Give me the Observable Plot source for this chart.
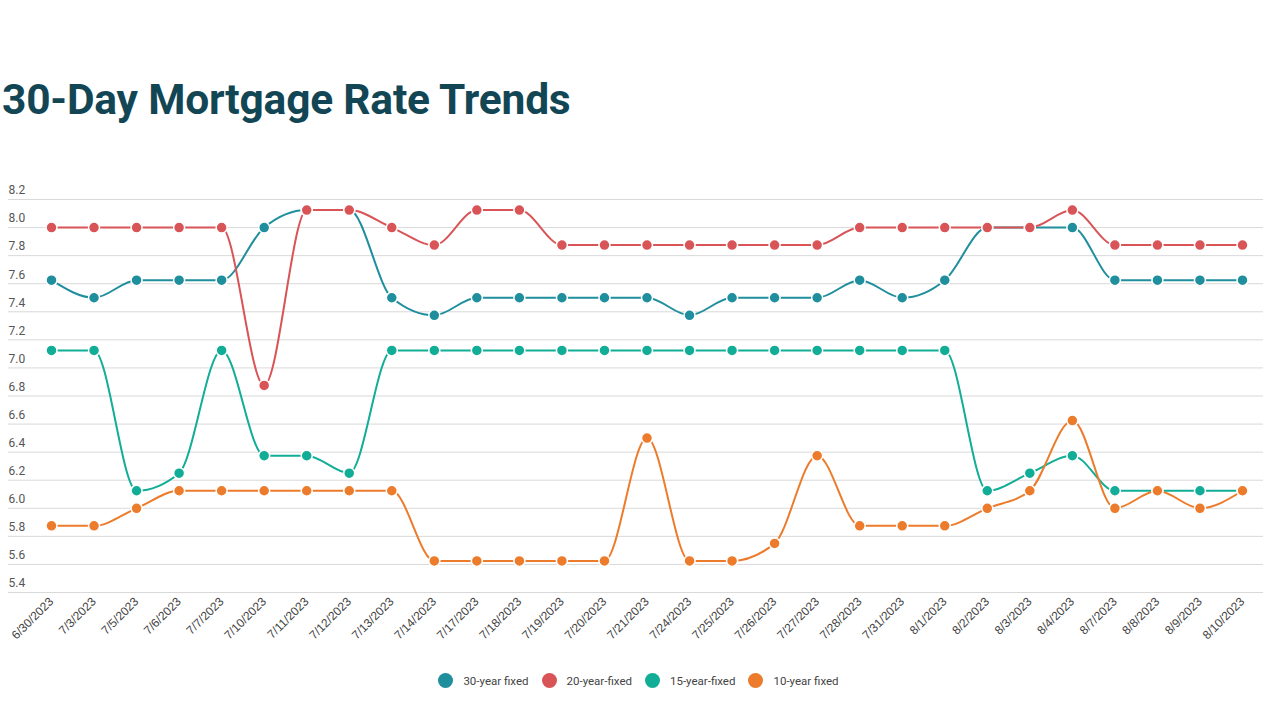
<!DOCTYPE html>
<html>
<head>
<meta charset="utf-8">
<script src="https://cdn.jsdelivr.net/npm/d3@7"></script>
<script src="https://cdn.jsdelivr.net/npm/@observablehq/plot@0.6"></script>
<style>
  html, body { margin: 0; padding: 0; background: #fff; width: 1280px; height: 726px; overflow: hidden; font-family: Roboto, "Noto Sans", sans-serif; }
  #title { position: absolute; left: 2px; top: 75px; font-size: 42.5px; font-weight: 700; color: #134655; font-family: Roboto, sans-serif; letter-spacing: -0.2px; white-space: nowrap; }
  #chart { position: absolute; left: 0; top: 150px; }
  #legend { position: absolute; left: 0; width: 1280px; top: 673px; display: flex; justify-content: center; font-size: 11.5px; color: #444; font-family: Roboto, sans-serif; }
  .item { display: flex; align-items: center; margin: 0 8px 0 5px; }
  .sw { width: 15px; height: 15px; border-radius: 50%; margin-right: 10px; }
</style>
</head>
<body>
<div id="title">30-Day Mortgage Rate Trends</div>
<div id="chart"></div>
<div id="legend"></div>
<script>
const dates = ["6/30/2023","7/3/2023","7/5/2023","7/6/2023","7/7/2023","7/10/2023","7/11/2023","7/12/2023","7/13/2023","7/14/2023","7/17/2023","7/18/2023","7/19/2023","7/20/2023","7/21/2023","7/24/2023","7/25/2023","7/26/2023","7/27/2023","7/28/2023","7/31/2023","8/1/2023","8/2/2023","8/3/2023","8/4/2023","8/7/2023","8/8/2023","8/9/2023","8/10/2023"];
const seriesNames = ["30-year fixed", "20-year-fixed", "15-year-fixed", "10-year fixed"];
const seriesColors = ["#1f8e9d", "#d95457", "#12ad96", "#ec7b2b"];
const rate30 = [7.625,7.5,7.625,7.625,7.625,8.0,8.125,8.125,7.5,7.375,7.5,7.5,7.5,7.5,7.5,7.375,7.5,7.5,7.5,7.625,7.5,7.625,8.0,8.0,8.0,7.625,7.625,7.625,7.625];
const rate20 = [8.0,8.0,8.0,8.0,8.0,6.875,8.125,8.125,8.0,7.875,8.125,8.125,7.875,7.875,7.875,7.875,7.875,7.875,7.875,8.0,8.0,8.0,8.0,8.0,8.125,7.875,7.875,7.875,7.875];
const rate15 = [7.125,7.125,6.125,6.25,7.125,6.375,6.375,6.25,7.125,7.125,7.125,7.125,7.125,7.125,7.125,7.125,7.125,7.125,7.125,7.125,7.125,7.125,6.125,6.25,6.375,6.125,6.125,6.125,6.125];
const rate10 = [5.875,5.875,6.0,6.125,6.125,6.125,6.125,6.125,6.125,5.625,5.625,5.625,5.625,5.625,6.5,5.625,5.625,5.75,6.375,5.875,5.875,5.875,6.0,6.125,6.625,6.0,6.125,6.0,6.125];
const yTicks = [5.4,5.6,5.8,6.0,6.2,6.4,6.6,6.8,7.0,7.2,7.4,7.6,7.8,8.0,8.2];

const allSeries = [rate30, rate20, rate15, rate10];
const rows = [];
allSeries.forEach((vals, si) => vals.forEach((v, i) => rows.push({date: dates[i], rate: v, series: seriesNames[si]})));

const marks = [
  Plot.ruleY(yTicks, {stroke: "#d9d9d9", strokeWidth: 1}),
  Plot.axisY({ticks: yTicks, anchor: "left", tickSize: 0, tickPadding: 0, textAnchor: "start", dy: -9, tickFormat: d => d.toFixed(1), fontSize: 12, fill: "#555", fontFamily: "Roboto, sans-serif", label: null}),
  Plot.axisX({anchor: "bottom", tickSize: 0, tickPadding: 7, tickRotate: -45, fontSize: 12, fill: "#444", fontFamily: "'Liberation Sans', Arial, sans-serif", label: null})
];
seriesNames.forEach((name, si) => {
  const d = rows.filter(r => r.series === name);
  marks.push(Plot.line(d, {x: "date", y: "rate", stroke: seriesColors[si], strokeWidth: 2, curve: "monotone-x"}));
});
seriesNames.forEach((name, si) => {
  const d = rows.filter(r => r.series === name);
  marks.push(Plot.dot(d, {x: "date", y: "rate", fill: seriesColors[si], stroke: "#fff", strokeWidth: 1.5, r: 5.5}));
});

const chart = Plot.plot({
  width: 1280,
  height: 500,
  marginTop: 49,
  marginBottom: 58,
  marginLeft: 8,
  marginRight: 17,
  x: {type: "point", domain: dates, padding: 0, round: false, range: [51, 1242]},
  y: {domain: [5.4, 8.2]},
  style: {fontFamily: "Roboto, sans-serif", background: "transparent", overflow: "visible"},
  marks
});
document.getElementById("chart").appendChild(chart);

const legend = document.getElementById("legend");
seriesNames.forEach((name, i) => {
  const it = document.createElement("div");
  it.className = "item";
  it.innerHTML = `<div class="sw" style="background:${seriesColors[i]}"></div><span>${name}</span>`;
  legend.appendChild(it);
});
</script>
</body>
</html>
